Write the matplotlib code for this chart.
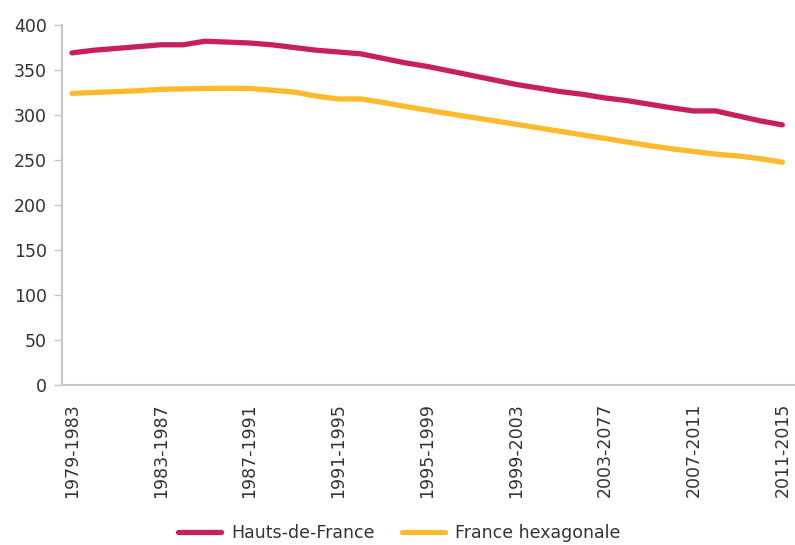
import matplotlib
matplotlib.use("Agg")
import matplotlib.pyplot as plt
import numpy as np

periods = [f"{y}-{y+4}" for y in range(1979, 2012)]
tick_labels = ["1979-1983", "1983-1987", "1987-1991", "1991-1995", "1995-1999",
               "1999-2003", "2003-2077", "2007-2011", "2011-2015"]

hauts_de_france = [369, 372, 374, 376, 378, 378, 382, 381, 380, 378, 375,
                   372, 370, 368, 363, 358, 354, 349, 344, 339, 334, 330,
                   326, 323, 319, 316, 312, 308, 304.5, 304.5, 299, 293.5, 289]
france_hexagonale = [324, 325, 326, 327, 328.5, 329, 329.5, 329.7, 329.5, 327.5, 325.5,
                     321, 317.8, 317.8, 314, 309.5, 305.5, 301.4, 297.5, 293.6, 289.7, 285.8,
                     281.8, 277.9, 274, 270, 266, 262.5, 259.5, 256.5, 254.5, 251.5, 247.5]

plt.rcParams['font.family'] = ['DejaVu Sans']

fig = plt.figure(figsize=(7.95, 5.45), dpi=100)
ax = fig.add_axes([62/795, 1-385/545, (795-62)/795, (385-25)/545])

x = np.arange(len(periods))
ax.plot(x, hauts_de_france, color="#C8205F", lw=3.8, solid_capstyle="round",
        solid_joinstyle="round", label="Hauts-de-France")
ax.plot(x, france_hexagonale, color="#FDBA2C", lw=3.8, solid_capstyle="round",
        solid_joinstyle="round", label="France hexagonale")

ax.set_xlim(-0.45, 32.57)
ax.set_ylim(0, 400)
ax.set_yticks(range(0, 401, 50))
tick_pos = [periods.index(t) if t in periods else 24 for t in tick_labels]
ax.set_xticks(tick_pos)
ax.set_xticklabels(tick_labels, rotation=90, va="top", ha="center")

for s in ["top", "right"]:
    ax.spines[s].set_visible(False)
for s in ["left", "bottom"]:
    ax.spines[s].set_color("#c8c8c8")
    ax.spines[s].set_linewidth(1.5)

ax.tick_params(axis="y", length=6, width=1, color="#c8c8c8", pad=5,
               labelsize=12.5, labelcolor="#333333")
ax.tick_params(axis="x", length=0, pad=13, labelsize=12.5, labelcolor="#333333")

leg = fig.legend(loc="lower center", bbox_to_anchor=(0.502, -0.024), ncol=2,
                 frameon=False, fontsize=12.5, handlelength=2.5, columnspacing=1.6,
                 handletextpad=0.55, labelcolor="#333333")

fig.savefig("out.png", dpi=100)
